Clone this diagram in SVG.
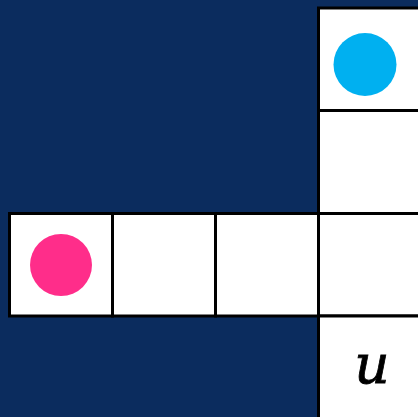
<svg xmlns="http://www.w3.org/2000/svg" width="418" height="417" viewBox="0 0 418 417">
<style>
.cell{fill:#ffffff;stroke:#000000;stroke-width:3}
</style>
<rect x="0" y="0" width="418" height="417" fill="#0b2c5e"/>
<g id="col-top"><rect class="cell" x="318.5" y="8" width="103" height="102.5"/></g>
<g id="col-2"><rect class="cell" x="318.5" y="110.5" width="103" height="103"/></g>
<g id="row-1"><rect class="cell" x="9.5" y="213.5" width="103" height="102.5"/></g>
<g id="row-2"><rect class="cell" x="112.5" y="213.5" width="103" height="102.5"/></g>
<g id="row-3"><rect class="cell" x="215.5" y="213.5" width="103" height="102.5"/></g>
<g id="row-4"><rect class="cell" x="318.5" y="213.5" width="103" height="102.5"/></g>
<g id="col-bottom"><rect class="cell" x="318.5" y="316" width="103" height="105"/>
<text x="372" y="383" font-family="'DejaVu Serif', serif" font-style="italic" font-size="55" stroke="#000" stroke-width="0.8" text-anchor="middle" fill="#000">u</text></g>
<g id="blue-dot"><circle cx="365" cy="64.5" r="31.5" fill="#00b0f0"/></g>
<g id="pink-dot"><circle cx="61" cy="265" r="31" fill="#ff2d8a"/></g>
</svg>
